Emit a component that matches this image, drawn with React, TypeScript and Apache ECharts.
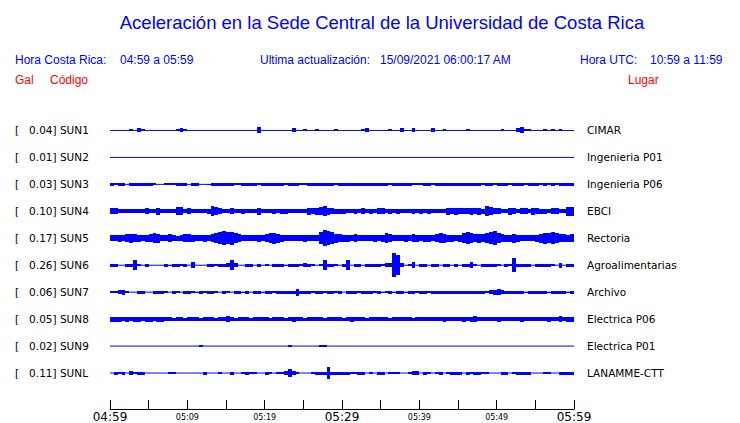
import React, { useEffect, useRef } from "react";
import * as echarts from "echarts";

const BLUE = "#0000ff";
const RED = "#ff0000";

const TITLE = "Aceleración en la Sede Central de la Universidad de Costa Rica";
const CODES = ["SUN1", "SUN2", "SUN3", "SUN4", "SUN5", "SUN6", "SUN7", "SUN8", "SUN9", "SUNL"];
const PEAKS = ["0.04", "0.01", "0.03", "0.10", "0.17", "0.26", "0.06", "0.05", "0.02", "0.11"];
const PLACES = ["CIMAR", "Ingenieria P01", "Ingenieria P06", "EBCI", "Rectoria", "Agroalimentarias", "Archivo", "Electrica P06", "Electrica P01", "LANAMME-CTT"];
const TICK_LABELS = ["04:59", "", "05:09", "", "05:19", "", "05:29", "", "05:39", "", "05:49", "", "05:59"];
const BIG_TICKS = ["04:59", "05:29", "05:59"];

// envelope half-amplitudes, one value every 0.5 min (04:59 -> 05:59)
const SUN1 = [
  0,0,0,0,0,1,0,2,1,0, 0,0,0,0,0,0,0,1,2,1, 0,0,0,0,0,0,0,0,0,0, 0,0,0,0,0,0,0,0,3,0,
  0,0,0,0,0,0,0,2,0,0, 1,0,0,1,0,0,0,0,1,0, 0,0,0,0,0,1,2,0,0,0, 0,0,1,0,0,2,0,0,2,0,
  0,0,0,2,0,0,1,0,0,0, 0,0,1,0,0,0,0,0,0,0, 0,1,0,0,0,2,3,1,1,0, 0,0,1,0,1,0,1,0,0,0,
];
const SUN2 = [
  0,0,0,0,0,0,0,0,0,0, 0,0,0,0,0,0,0,0,0,0, 0,0,0,0,0,0,0,0,0,0, 0,0,0,0,0,0,0,0,0,0,
  0,0,0,0,0,0,0,0,0,0, 0,0,0,0,0,0,0,0,0,0, 0,0,0,0,0,0,0,0,0,0, 0,0,0,0,0,0,0,0,0,0,
  0,0,0,0,0,0,0,0,0,0, 0,0,0,0,0,0,0,0,0,0, 0,0,0,0,0,0,0,0,0,0, 0,0,0,0,0,0,0,0,0,0,
];
const SUN3 = [
  1.5,1,1.5,1.5,0,1.5,1.5,1.5,1.5,1.5, 1.5,1,0,0,1,1,1,1.5,1.5,1.5,
  0,1.5,1.5,0,0,0.5,1.5,1.5,1.5,1.5, 1.5,1.5,1,1,1.5,1.5,1.5,1.5,1,1.5,
  1.5,1.5,1.5,1.5,1.5,1,1.5,1.5,1.5,1, 1,1.5,1.5,1.5,1.5,1.5,1.5,1.5,1,1.5,
  1.5,1.5,1.5,1.5,1.5,1.5,1.5,1.5,1.5,1.5, 1.5,1.5,1,1.5,1.5,1.5,1.5,1.5,1,1,
  1,1.5,1.5,1,1.5,1.5,1.5,1.5,1.5,1.5, 1.5,1.5,1.5,1.5,1.5,1.5,1,1.5,1.5,1,
  1.5,1.5,1.5,1,1.5,1.5,1.5,1,1.5,1.5, 1.5,1,1.5,1,1.5,1,1.5,1.5,1.5,1.5,
];
const SUN4 = [
  3,3,2,2,2,2,2,2,2,3, 2,2,3.5,2,2,2,2,4,4,2, 3,2,2,2,2,2.5,5,4,3,2, 2,3,2,2,2.5,2,2,2,3.5,2,
  2,2,2.5,2,2.5,2.5,2,2,2,2, 2,3.5,3,3.5,4,5,3.5,3,2.5,2.5, 2.5,2,2,2.5,2,3,2,2.5,2,3, 3,2,2.5,2,2.5,2,2,2,2.5,2,
  2.5,2,2.5,2,2,2,2,3.5,3,3.5, 3,3,3,3.5,3,3.5,2.5,5,4,3, 3,2,2,3.5,3,2,3,3,2,3.5, 3,2.5,2.5,2,3,3,2,2,4.5,4.5,
];
const SUN5 = [
  3,3,3.5,3,4,4.5,4,3.5,3,3.5, 4,5,4.5,3,3,4,3,2.5,3,4, 4,3.5,3,3,3.5,3,4,5,6,7, 6,6.5,5,4,3,3,3,3,3.5,3,
  4,5,5.5,4.5,3.5,3,3,3,3,3, 3.5,3,3,3,6,8,7,6,4.5,4, 3.5,3.5,3,4,3,3,3,3,3.5,3, 3.5,5,4,3,3,3,3.5,3,4,3.5,
  3,3.5,3.5,3,4,5,4.5,3.5,3.5,3, 3.5,5,6,5,4,4.5,4,5,6,7, 5,4,3.5,3.5,4.5,3.5,3,3,3,3, 3.5,4.5,5.5,5,6,5,4,4,3.5,4,
];
const SUN6 = [
  1.5,1.5,0,0,1.5,1.5,5,1,0,1.5, 0,0,0,0,1.5,0.5,1.5,1.5,1,1.5, 0,3,0,0,0,1.5,1.5,1,1.5,1.5, 2,5,2,0,0,1.5,1.5,0,1.5,0,
  1,0,1.5,1.5,1.5,0.5,1.5,1.5,1.5,1, 2,1.5,1,0,1,5,1.5,1.5,1,0, 1.5,5,0,1.5,1.5,0,1.5,1.5,1.5,1.5, 1,2,2,12,10,2,0,1,3,0,
  1.5,1.5,0,1.5,1.5,0,1.5,1.5,0,1.5, 0,1.5,1.5,3,1,0,1.5,1.5,1.5,1.5, 1,0,1.5,1,7,1.5,1.5,1.5,1.5,0, 1.5,1.5,1.5,1.5,1,0,2.5,0,1.5,1.5,
];
const SUN7 = [
  1,1,2,2.5,1,0,0,1.5,1.5,0, 0,1.5,1.5,1.5,1,0,1.5,1,0,1.5, 1.5,1,0.5,1.5,1,1.5,1.5,1,0,1.5, 1,0,1.5,1.5,0.5,1.5,0,1.5,1.5,0.5,
  1.5,1.5,1,1.5,1.5,1.5,1.5,1.5,3.5,1.5, 1.5,1.5,1,1.5,1.5,1,1.5,1.5,1,1.5, 0,1.5,1.5,1.5,1,1.5,1.5,1.5,1,1.5, 0.5,1,1.5,0.5,1.5,1.5,0.5,1.5,1.5,1,
  1.5,1.5,1,1.5,1.5,1.5,1.5,1.5,1.5,1.5, 1.5,1.5,1.5,1.5,1.5,1.5,1.5,1,2,2.5, 3,2,1.5,1.5,1.5,1.5,1.5,0.5,1.5,1.5, 1.5,1.5,1.5,0.5,1.5,1.5,1.5,1.5,0.5,1.5,
];
const SUN8 = [
  2.5,2.5,2.5,2,2.5,2,2.5,2.5,2,2.5, 2.5,2,2.5,2.5,2,2,1.5,2,2,1.5, 2,2,2,1.5,2,2,2,1.5,2,2, 3,2,1.5,2,2,2,1.5,2,2,2,
  2,1.5,2,2,2,1.5,2,2.5,2,2, 1.5,2,2,2,2,1.5,2,2,2,2, 1.5,2,2.5,2,2,2,1.5,2,2,2, 2,2,1.5,2,2,2,2,2,1.5,2,
  2,2,2,2,2,2,2.5,2,2,2, 2,2.5,2,2.5,3,2,2,2,2,2, 2.5,2,2,2,2,2,2.5,2,2,2, 2,2,2,2.5,2,2,3,2,2.5,2.5,
];
const SUN9 = [
  0,0,0,0,0,0,0,0,0,0, 0,0,0,0,0,0,0,0,0,0, 0,0,0,1,0,0,0,0,0,0, 0,0,0,0,0,0,0,0,0,0,
  0,0,0,0,0,0,1,0,0,0, 0,0,0,0,1,1,0,0,0,0, 0,0,0,0,0,0,0,0,0,0, 0,0,0,0,0,0,0,0,0,0,
  0,0,0,0,0,0,0,0,0,0, 0,0,0,0,0,0,0,0,0,0, 0,0,0,0,0,0,0,0,0,0, 0,0,0,0,0,0,0,0,0,0,
];
const SUNL = [
  0,1.5,1,1.5,0,2,1,1.5,1.5,0, 0,0,0,0,0,1,1,0,0,0, 0,0,0,0,1.5,0,0,0,1,0, 0,1.5,0,0,1,1.5,1,1,0,0,
  1.5,1,0,1,1,2,4,2,1,0, 0,0,1,1.5,1.5,1.5,6,1.5,1.5,1.5, 1.5,1.5,1,1,1.5,1.5,0,1,0,1.5, 1.5,0,1,1,1,0,0,1,2,2,
  0,1.5,1,0,1,1.5,0,1,1.5,1.5, 1.5,0,1.5,1,1.5,1.5,1,1,0,0, 0,1.5,1.5,0,1,1.5,1.5,1.5,1.5,0, 0,0,1,1,0,0,1.5,1.5,1.5,1.5,
];
const TRACES = [SUN1, SUN2, SUN3, SUN4, SUN5, SUN6, SUN7, SUN8, SUN9, SUNL];
const STEP = 0.5; // minutes per envelope sample
const DURATION = 60;

export default function App() {
  const ref = useRef<HTMLDivElement>(null);
  useEffect(() => {
    if (!ref.current) return;
    const chart = echarts.init(ref.current, null, { renderer: "svg" });
    const PX = 1 / 27; // y units per pixel of amplitude
    const series: any[] = [];
    TRACES.forEach((trace, k) => {
      const s = k + 1;
      series.push({
        type: "line",
        data: [[0, s], [DURATION, s]],
        showSymbol: false,
        symbol: "none",
        silent: true,
        lineStyle: { color: BLUE, width: 1 },
      });
      series.push({
        type: "custom",
        silent: true,
        clip: false,
        encode: { x: 0, y: 2 },
        data: trace.map((a, i) => [i * STEP, a, s]),
        renderItem: (_p: any, api: any) => {
          const t = api.value(0);
          const a = api.value(1);
          const st = api.value(2);
          if (!a) return null;
          const p0 = api.coord([t, st - a * PX]);
          const p1 = api.coord([t + STEP, st + a * PX]);
          const x0 = Math.round(p0[0]);
          const x1 = Math.round(p1[0]);
          const y0 = Math.round(p0[1]);
          const y1 = Math.round(p1[1]);
          return {
            type: "rect",
            shape: { x: x0, y: y0, width: Math.max(1, x1 - x0), height: y1 - y0 },
            style: { fill: BLUE },
          };
        },
      });
    });
    const hdr = (text: string, x: number, y: number, fill: string, align = "left") => ({
      type: "text",
      x,
      y,
      style: { text, fill, fontSize: 12, fontFamily: "Liberation Sans", textAlign: align, textVerticalAlign: "middle" },
    });
    chart.setOption({
      animation: false,
      graphic: [
        {
          type: "text",
          x: 382,
          y: 22,
          style: { text: TITLE, fill: BLUE, fontSize: 18.5, fontFamily: "Liberation Sans", textAlign: "center", textVerticalAlign: "middle" },
        },
        hdr("Hora Costa Rica:", 15, 60, BLUE),
        hdr("04:59 a 05:59", 120, 60, BLUE),
        hdr("Ultima actualización:", 260, 60, BLUE),
        hdr("15/09/2021 06:00:17 AM", 380, 60, BLUE),
        hdr("Hora UTC:", 580, 60, BLUE),
        hdr("10:59 a 11:59", 650, 60, BLUE),
        hdr("Gal", 15, 80, RED),
        hdr("Código", 50, 80, RED),
        hdr("Lugar", 628, 80, RED),
      ],
      grid: { left: 110, right: 166, top: 103.5, bottom: 22.5 },
      xAxis: {
        type: "value",
        position: "bottom",
        min: 0,
        max: DURATION,
        interval: 5,
        offset: 9,
        axisLine: { show: true, onZero: false, lineStyle: { color: "#000", width: 1 } },
        axisTick: { show: true, inside: true, length: 9, lineStyle: { color: "#000" } },
        splitLine: { show: false },
        axisLabel: {
          margin: 1,
          color: "#000",
          fontFamily: "DejaVu Sans",
          fontWeight: "normal",
          formatter: (v: number) => {
            const lab = TICK_LABELS[Math.round(v / 5)] || "";
            if (!lab) return "";
            return BIG_TICKS.includes(lab) ? `{big|${lab}}` : `{small|${lab}}`;
          },
          rich: {
            big: { fontSize: 12, lineHeight: 14, fontFamily: "DejaVu Sans", fontWeight: "normal", color: "#000" },
            small: { fontSize: 8, lineHeight: 14, fontFamily: "DejaVu Sans", fontWeight: "normal", color: "#000" },
          },
        },
      },
      yAxis: [
        {
          type: "value",
          min: 0,
          max: 11,
          interval: 1,
          inverse: true,
          position: "left",
          axisLine: { show: false },
          axisTick: { show: false },
          splitLine: { show: false },
          axisLabel: {
            margin: 95,
            align: "left",
            color: "#000",
            fontSize: 10.5,
            fontFamily: "DejaVu Sans",
            formatter: (v: number) => {
              const k = Math.round(v) - 1;
              if (k < 0 || k >= CODES.length) return "";
              return `[   ${PEAKS[k]}] ${CODES[k]}`;
            },
          },
        },
        {
          type: "value",
          min: 0,
          max: 11,
          interval: 1,
          inverse: true,
          position: "right",
          axisLine: { show: false },
          axisTick: { show: false },
          splitLine: { show: false },
          axisLabel: {
            margin: 13,
            align: "left",
            color: "#000",
            fontSize: 10.5,
            fontFamily: "DejaVu Sans",
            formatter: (v: number) => {
              const k = Math.round(v) - 1;
              if (k < 0 || k >= PLACES.length) return "";
              return PLACES[k];
            },
          },
        },
      ],
      series,
    });
    return () => chart.dispose();
  }, []);
  return (
    <div
      ref={ref}
      style={{ position: "fixed", left: 0, top: 0, width: 740, height: 423, background: "#fff" }}
    />
  );
}
